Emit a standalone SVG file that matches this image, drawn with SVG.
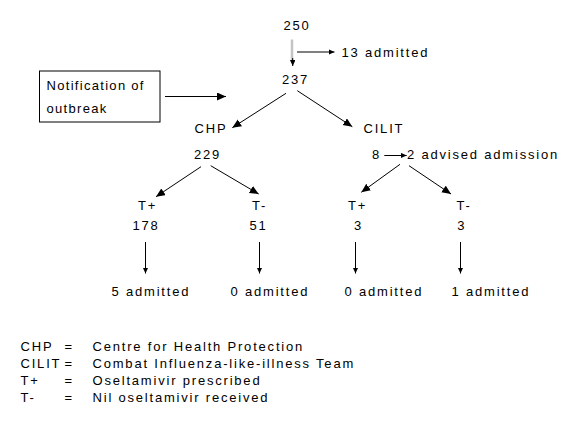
<svg xmlns="http://www.w3.org/2000/svg" width="581" height="425" viewBox="0 0 581 425">
<style>
text{font-family:"Liberation Sans",Arial,sans-serif;font-size:13px;fill:#000;letter-spacing:1.8px}
.box{letter-spacing:1.3px}
.ln{stroke:#000;stroke-width:1;fill:none}
.big{marker-end:url(#ab)}
.sm{marker-end:url(#as)}
</style>
<defs>
<marker id="ab" markerUnits="userSpaceOnUse" markerWidth="10" markerHeight="9" refX="9" refY="4" orient="auto">
<path d="M0,0 L9,4 L0,8 z" fill="#000"/>
</marker>
<marker id="as" markerUnits="userSpaceOnUse" markerWidth="7" markerHeight="6" refX="6" refY="2.75" orient="auto">
<path d="M0,0 L6,2.75 L0,5.5 z" fill="#000"/>
</marker>
</defs>
<rect width="581" height="425" fill="#fff"/>
<g id="connectors">
<line x1="292" y1="39.5" x2="292" y2="62" stroke="#c4c4c4" stroke-width="2.5"/>
<line class="ln sm" x1="292.7" y1="58" x2="292.7" y2="66"/>
<line class="ln sm" x1="297" y1="52" x2="334.5" y2="52"/>
<line class="ln big" x1="165" y1="96.5" x2="226" y2="96.5"/>
<line class="ln big" x1="286" y1="93.3" x2="232.3" y2="127.7"/>
<line class="ln big" x1="297.3" y1="90.7" x2="352.3" y2="126.7"/>
<line class="ln big" x1="201" y1="166.7" x2="156" y2="196.7"/>
<line class="ln big" x1="210.7" y1="165.7" x2="258.7" y2="194"/>
<line class="ln sm" x1="384.3" y1="155.5" x2="406.7" y2="155.5"/>
<line class="ln big" x1="400" y1="164.3" x2="361.3" y2="192.3"/>
<line class="ln big" x1="409" y1="165.7" x2="451" y2="194"/>
<line class="ln sm" x1="145.5" y1="242" x2="145.5" y2="273.5"/>
<line class="ln sm" x1="259.5" y1="242" x2="259.5" y2="273.5"/>
<line class="ln sm" x1="355.5" y1="242" x2="355.5" y2="273.5"/>
<line class="ln sm" x1="460.5" y1="242" x2="460.5" y2="273.5"/>
</g>
<g id="n250"><text x="283.5" y="29.5">250</text></g>
<g id="n13admitted"><text x="341.5" y="56.5">13 admitted</text></g>
<g id="n237"><text x="282" y="83.5">237</text></g>
<g id="notification">
<rect x="39.5" y="71" width="120.5" height="51" fill="none" stroke="#000" stroke-width="1"/>
<text class="box" x="46.5" y="90">Notification of</text>
<text class="box" x="46.5" y="112.7">outbreak</text>
</g>
<g id="chp"><text x="194.5" y="132.5">CHP</text><text x="194" y="158.5">229</text></g>
<g id="cilit"><text x="363.5" y="132.5">CILIT</text><text x="372" y="158.5">8</text></g>
<g id="advised"><text x="407" y="158.5">2 advised admission</text></g>
<g id="chp-tplus"><text x="138" y="210">T+</text><text x="132.5" y="230">178</text></g>
<g id="chp-tminus"><text x="252" y="210">T-</text><text x="249.5" y="230">51</text></g>
<g id="cilit-tplus"><text x="348" y="210">T+</text><text x="354" y="230">3</text></g>
<g id="cilit-tminus"><text x="456.5" y="210">T-</text><text x="457.2" y="230">3</text></g>
<g id="adm1"><text x="111.5" y="295.5">5 admitted</text></g>
<g id="adm2"><text x="230.5" y="295.5">0 admitted</text></g>
<g id="adm3"><text x="344.5" y="295.5">0 admitted</text></g>
<g id="adm4"><text x="451.5" y="295.5">1 admitted</text></g>
<g id="legend">
<text x="20.5" y="350.5">CHP</text><text x="64.5" y="350.5">=</text><text x="92.5" y="350.5">Centre for Health Protection</text>
<text x="20.5" y="367.5">CILIT</text><text x="64.5" y="367.5">=</text><text x="92.5" y="367.5">Combat Influenza-like-illness Team</text>
<text x="20.5" y="384.5">T+</text><text x="64.5" y="384.5">=</text><text x="92.5" y="384.5">Oseltamivir prescribed</text>
<text x="20.5" y="401.5">T-</text><text x="64.5" y="401.5">=</text><text x="92.5" y="401.5">Nil oseltamivir received</text>
</g>
</svg>
